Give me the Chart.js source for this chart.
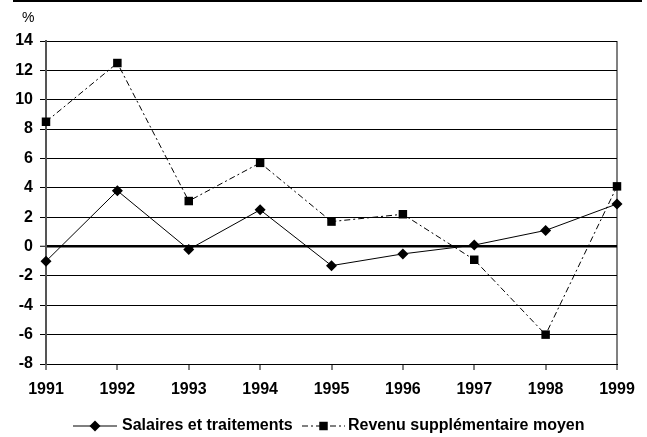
<!DOCTYPE html>
<html>
<head>
<meta charset="utf-8">
<script src="https://cdn.jsdelivr.net/npm/chart.js@4/dist/chart.umd.min.js"></script>
<style>
  html, body { margin: 0; padding: 0; background: #fff; }
  #wrap { width: 647px; height: 437px; position: relative; }
</style>
</head>
<body>
<div id="wrap"><canvas id="lineChart"></canvas></div>
<script>
const years = ["1991", "1992", "1993", "1994", "1995", "1996", "1997", "1998", "1999"];
const salaires = [-1.0, 3.8, -0.2, 2.5, -1.3, -0.5, 0.1, 1.1, 2.9];
const revenu = [8.5, 12.5, 3.1, 5.7, 1.7, 2.2, -0.9, -6.0, 4.1];
const seriesNames = ["Salaires et traitements", "Revenu supplémentaire moyen"];
const unitLabel = "%";

const FONT = "'Liberation Sans', Arial, sans-serif";

// top rule, unit label and the legend (line + marker + text)
const decorPlugin = {
  id: "decor",
  afterDraw(chart) {
    const ctx = chart.ctx;
    ctx.save();
    ctx.strokeStyle = "#000";
    ctx.lineWidth = 2;
    ctx.beginPath();
    ctx.moveTo(13, 1);
    ctx.lineTo(642, 1);
    ctx.stroke();

    ctx.fillStyle = "#000";
    ctx.font = "14px " + FONT;
    ctx.textBaseline = "middle";
    ctx.textAlign = "left";
    ctx.fillText(unitLabel, 22, 18);

    const items = [
      { x0: 73, x1: 117, text: 122 },
      { x0: 302, x1: 345, text: 348 },
    ];
    const y = 426;
    chart.data.datasets.forEach((ds, i) => {
      const it = items[i];
      ctx.strokeStyle = ds.borderColor;
      ctx.lineWidth = ds.borderWidth;
      ctx.setLineDash(ds.borderDash || []);
      ctx.beginPath();
      ctx.moveTo(it.x0, y);
      ctx.lineTo(it.x1, y);
      ctx.stroke();
      ctx.setLineDash([]);
      Chart.helpers.drawPoint(ctx, {
        pointStyle: ds.pointStyle,
        radius: ds.pointRadius,
        borderWidth: 0,
        rotation: 0
      }, (it.x0 + it.x1) / 2, y);
      ctx.font = "bold 16px " + FONT;
      ctx.fillStyle = "#000";
      ctx.fillText(ds.label, it.text, y);
    });
    ctx.restore();
  }
};

new Chart(document.getElementById("lineChart"), {
  type: "line",
  data: {
    labels: years,
    datasets: [
      {
        label: seriesNames[0],
        data: salaires,
        borderColor: "#000",
        backgroundColor: "#000",
        borderWidth: 1,
        pointStyle: "rectRot",
        pointRadius: 5.5,
        pointBorderWidth: 0,
        tension: 0,
        clip: false
      },
      {
        label: seriesNames[1],
        data: revenu,
        borderColor: "#000",
        backgroundColor: "#000",
        borderWidth: 1,
        borderDash: [6, 3, 2, 3],
        pointStyle: "rect",
        pointRadius: 6,
        pointBorderWidth: 0,
        tension: 0,
        clip: false
      }
    ]
  },
  options: {
    responsive: true,
    maintainAspectRatio: false,
    animation: false,
    layout: { padding: { left: 0, top: 41, right: 30, bottom: 0 } },
    plugins: {
      legend: { display: false },
      tooltip: { enabled: false }
    },
    scales: {
      x: {
        offset: false,
        afterFit: (scale) => { scale.height = 73; },
        grid: {
          drawOnChartArea: true,
          color: (c) => (c.index === years.length - 1 ? "#808080" : "rgba(0,0,0,0)"),
          lineWidth: 2,
          tickColor: "#000",
          tickWidth: 1,
          tickLength: 6
        },
        border: { color: "#000", width: 1 },
        ticks: {
          color: "#000",
          font: { family: FONT, size: 16, weight: "bold" },
          padding: 10,
          maxRotation: 0,
          autoSkip: false
        }
      },
      y: {
        min: -8,
        max: 14,
        afterFit: (scale) => { scale.width = 46; },
        grid: {
          color: "#000",
          lineWidth: (c) => (c.tick && c.tick.value === 0 ? 2.5 : 1),
          tickColor: "#000",
          tickWidth: 1,
          tickLength: 6
        },
        border: { color: "#555", width: 2 },
        ticks: {
          stepSize: 2,
          color: "#000",
          font: { family: FONT, size: 16, weight: "bold" },
          padding: 7
        }
      }
    }
  },
  plugins: [decorPlugin]
});
</script>
</body>
</html>
